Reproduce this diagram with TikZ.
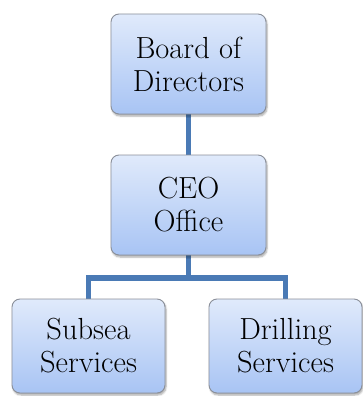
\documentclass[tikz,border=0pt]{standalone}
\usetikzlibrary{shadows.blur,backgrounds}
\definecolor{conncol}{HTML}{4A7AB5}
\definecolor{boxtop}{HTML}{E0EAFB}
\definecolor{boxbot}{HTML}{A8C4F4}
\definecolor{boxline}{HTML}{8A8F99}
\tikzset{
  orgbox/.style={draw=boxline, line width=0.9pt, rounded corners=8pt,
    top color=boxtop, bottom color=boxbot, align=center,
    inner sep=0pt, minimum width=155pt, minimum height=100pt,
    font=\fontsize{30.5}{33}\selectfont,
    blur shadow={shadow xshift=1pt, shadow yshift=-2pt, shadow blur steps=6, shadow opacity=35}},
  lowbox/.style={orgbox, minimum width=153pt, minimum height=94pt},
  conn/.style={draw=conncol, line width=5.5pt, line join=miter}
}
\begin{document}
\begin{tikzpicture}[x=1pt,y=-1pt]
\useasboundingbox (0,0) rectangle (362,396);
\node[orgbox] (board) at (188.5,64) {Board of\\Directors};
\node[orgbox] (ceo) at (188.5,205) {CEO\\Office};
\node[lowbox] (subsea) at (88.5,346) {Subsea\\Services};
\node[lowbox] (drill) at (285.5,346) {Drilling\\Services};
\coordinate (bar) at (188.5,278);
\begin{scope}[on background layer]
\draw[conn] (board.center) -- (ceo.center);
\draw[conn] (ceo.center) -- (bar);
\draw[conn] (subsea.center) |- (bar) -| (drill.center);
\end{scope}
\end{tikzpicture}
\end{document}
